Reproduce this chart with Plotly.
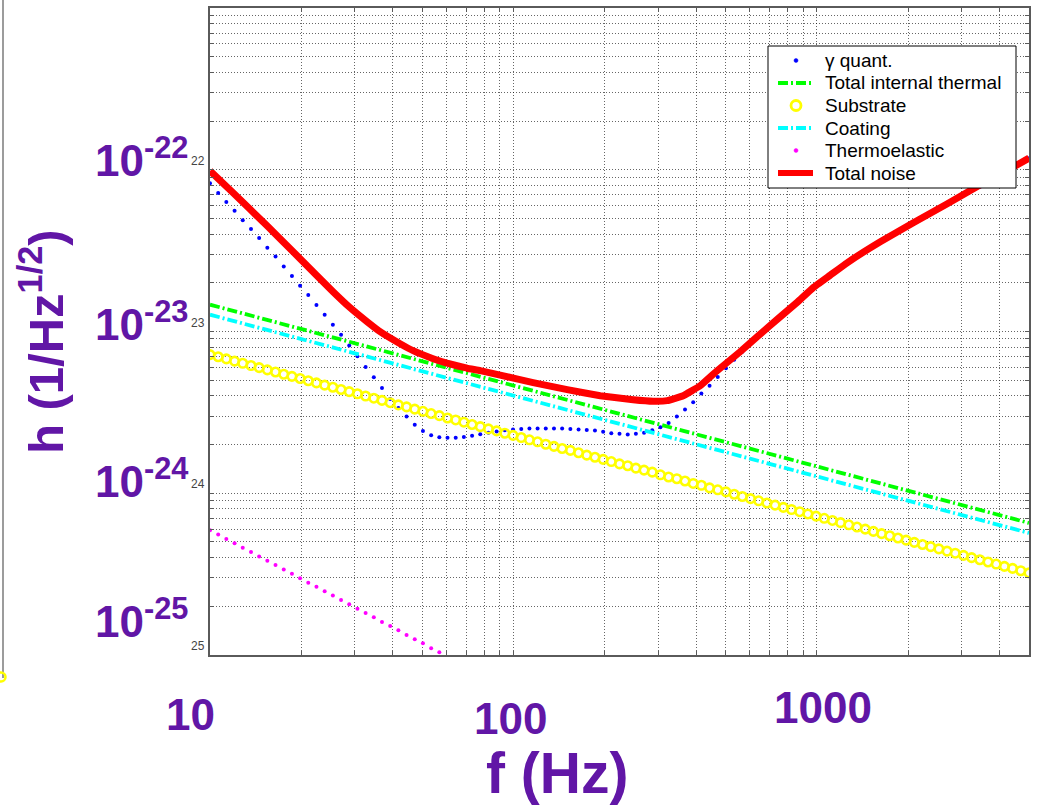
import plotly.graph_objects as go

# ---------------- data ----------------
freq = [10, 10.64, 11.32, 12.05, 12.82, 13.65, 14.52, 15.45, 16.44, 17.50,
        18.62, 19.81, 21.08, 22.43, 23.87, 25.40, 27.03, 28.76, 30.61, 32.57,
        34.66, 36.88, 39.24, 41.76, 44.44, 47.29, 50.32, 53.55, 56.98, 60.63,
        64.52, 68.65, 73.06, 77.74, 82.72, 88.03, 93.67, 99.68, 106.1, 112.9,
        120.1, 127.8, 136.0, 144.7, 154.0, 163.9, 174.4, 185.6, 197.5, 210.1,
        223.6, 238.0, 253.2, 269.4, 286.7, 305.1, 324.6, 345.5, 367.6, 391.2,
        416.2, 442.9, 471.3, 501.5, 533.7, 567.9, 604.3, 643.0, 684.3, 728.1,
        775.0, 824.7, 877.6, 933.8, 993.7, 1057, 1125, 1197, 1274, 1356,
        1443, 1535, 1634, 1738, 1850, 1968, 2094, 2229, 2371, 2524,
        2685, 2857, 3041, 3235, 3443, 3664, 3898, 4148, 4414, 4697, 5000]

quant = [8.26e-23, 7.17e-23, 6.31e-23, 5.57e-23, 4.88e-23, 4.30e-23, 3.78e-23, 3.29e-23, 2.91e-23, 2.52e-23,
         2.20e-23, 1.92e-23, 1.68e-23, 1.46e-23, 1.27e-23, 1.10e-23, 9.55e-24, 8.19e-24, 7.02e-24, 6.03e-24,
         5.22e-24, 4.48e-24, 3.83e-24, 3.36e-24, 2.98e-24, 2.65e-24, 2.43e-24, 2.28e-24, 2.22e-24, 2.20e-24,
         2.20e-24, 2.23e-24, 2.27e-24, 2.32e-24, 2.37e-24, 2.41e-24, 2.45e-24, 2.48e-24, 2.50e-24, 2.51e-24,
         2.51e-24, 2.51e-24, 2.51e-24, 2.51e-24, 2.50e-24, 2.48e-24, 2.46e-24, 2.44e-24, 2.40e-24, 2.35e-24,
         2.33e-24, 2.31e-24, 2.33e-24, 2.37e-24, 2.45e-24, 2.56e-24, 2.72e-24, 2.98e-24, 3.29e-24, 3.65e-24,
         4.13e-24, 4.62e-24, 5.24e-24, 5.92e-24, 6.69e-24, 7.50e-24, 8.40e-24, 9.42e-24, 1.050e-23, 1.161e-23,
         1.286e-23, 1.425e-23, 1.579e-23, 1.749e-23, 1.927e-23, 2.099e-23, 2.286e-23, 2.488e-23, 2.702e-23, 2.914e-23,
         3.138e-23, 3.379e-23, 3.633e-23, 3.884e-23, 4.158e-23, 4.445e-23, 4.753e-23, 5.088e-23, 5.447e-23, 5.833e-23,
         6.243e-23, 6.610e-23, 6.998e-23, 7.408e-23, 7.842e-23, 8.408e-23, 9.013e-23, 9.678e-23, 1.039e-22, 1.105e-22,
         1.176e-22]

substrate_e24 = [7.20, 6.98, 6.77, 6.56, 6.36, 6.16, 5.98, 5.79, 5.62, 5.44,
                 5.28, 5.12, 4.96, 4.81, 4.66, 4.52, 4.38, 4.25, 4.12, 3.99,
                 3.87, 3.75, 3.63, 3.52, 3.42, 3.31, 3.21, 3.11, 3.02, 2.92,
                 2.84, 2.75, 2.66, 2.58, 2.50, 2.43, 2.35, 2.28, 2.21, 2.14,
                 2.08, 2.01, 1.95, 1.89, 1.84, 1.78, 1.72, 1.67, 1.62, 1.57,
                 1.52, 1.48, 1.43, 1.39, 1.35, 1.30, 1.26, 1.23, 1.19, 1.15,
                 1.12, 1.08, 1.05, 1.02, 0.986, 0.955, 0.926, 0.898, 0.870, 0.844,
                 0.818, 0.793, 0.769, 0.745, 0.722, 0.700, 0.679, 0.658, 0.638, 0.618,
                 0.600, 0.581, 0.563, 0.546, 0.529, 0.513, 0.497, 0.482, 0.468, 0.453,
                 0.439, 0.426, 0.413, 0.400, 0.388, 0.376, 0.365, 0.353, 0.343, 0.332,
                 0.322]

thermo_e25 = [5.91, 5.55, 5.22, 4.91, 4.61, 4.33, 4.07, 3.83, 3.60, 3.38,
              3.18, 2.98, 2.80, 2.64, 2.48, 2.33, 2.19, 2.06, 1.93, 1.82,
              1.71, 1.60, 1.51, 1.42, 1.33, 1.25, 1.18, 1.10, 1.04]

line_freq = [10, 100, 1000, 5000]
thermal_total = [1.465e-23, 4.63e-24, 1.465e-24, 6.55e-25]
coating = [1.27e-23, 4.02e-24, 1.27e-24, 5.68e-25]

total_freq = [10, 11.91, 15.42, 19.81, 25.44, 28.94, 32.94, 36.35, 42.31, 46.70,
              54.35, 60.44, 70.37, 77.67, 90.41, 116.1, 150.4, 193.2, 248.1, 288.8,
              321.2, 362.6, 412.6, 469.6, 559.2, 636.2, 757.5, 861.7, 971.6, 1107,
              1258, 1618, 2079, 2691, 3457, 4442, 5000]
total_noise = [9.84e-23, 7.20e-23, 4.50e-23, 2.82e-23, 1.761e-23, 1.403e-23, 1.149e-23, 9.97e-24, 8.40e-24, 7.61e-24,
               6.79e-24, 6.37e-24, 5.93e-24, 5.73e-24, 5.37e-24, 4.83e-24, 4.37e-24, 4.01e-24, 3.79e-24, 3.71e-24,
               3.74e-24, 4.01e-24, 4.62e-24, 5.73e-24, 7.50e-24, 9.29e-24, 1.234e-23, 1.517e-23, 1.865e-23, 2.23e-23,
               2.66e-23, 3.59e-23, 4.70e-23, 6.16e-23, 8.07e-23, 1.042e-22, 1.18e-22]

substrate = [v * 1e-24 for v in substrate_e24]
thermo = [v * 1e-25 for v in thermo_e25]
thermo_freq = freq[:len(thermo)]

x_grid = [10, 20, 30, 40, 50, 60, 70, 80, 90, 100, 200, 300, 400, 500, 600, 700, 800, 900,
          1000, 2000, 3000, 4000, 5000]
y_grid = [m * 10.0 ** e for e in (-25, -24, -23, -22) for m in range(1, 10)] + [1e-21]

x_labels = ["10", "100", "1000"]
y_labels = ["10<sup>-22</sup>", "10<sup>-23</sup>", "10<sup>-24</sup>", "10<sup>-25</sup>"]
y_small = ["22", "23", "24", "25"]
legend_names = ["γ quant.", "Total internal thermal", "Substrate", "Coating", "Thermoelastic", "Total noise"]

# ---------------- styling / layout helpers ----------------
PURPLE = "#6116A6"
FONT = "Liberation Sans, Arial, sans-serif"
L, R, T, B = 210, 1029, 8, 655
DASHDOT = "10px,3px,2px,3px"


def pp(x, y):
    return (x - L) / (R - L), 1 - (y - T) / (B - T)


fig = go.Figure()
fig.add_trace(go.Scatter(x=freq, y=quant, mode="markers", name=legend_names[0],
                         marker=dict(color="#0000ff", size=4, symbol="circle")))
fig.add_trace(go.Scatter(x=line_freq, y=thermal_total, mode="lines", name=legend_names[1],
                         line=dict(color="#00ff00", width=3.8, dash=DASHDOT)))
fig.add_trace(go.Scatter(x=freq, y=substrate, mode="markers", name=legend_names[2],
                         marker=dict(color="#ffff00", size=8.5, symbol="circle-open",
                                     line=dict(color="#ffff00", width=2.6))))
fig.add_trace(go.Scatter(x=line_freq, y=coating, mode="lines", name=legend_names[3],
                         line=dict(color="#00ffff", width=3.8, dash=DASHDOT)))
fig.add_trace(go.Scatter(x=thermo_freq, y=thermo, mode="markers", name=legend_names[4],
                         marker=dict(color="#ff00ff", size=4, symbol="circle")))
fig.add_trace(go.Scatter(x=total_freq, y=total_noise, mode="lines", name=legend_names[5],
                         line=dict(color="#ff0000", width=7, shape="spline", smoothing=0.3)))

axis_common = dict(
    type="log", showgrid=True, gridcolor="rgba(0,0,0,0.6)", griddash="1px,2px", gridwidth=1,
    showline=True, linecolor="rgb(90,90,90)", linewidth=1.5, mirror="allticks",
    ticks="inside", ticklen=4, tickcolor="rgb(90,90,90)", showticklabels=False,
    zeroline=False, tickmode="array",
)
fig.update_xaxes(range=[1, 3.69897], tickvals=x_grid, **axis_common)
fig.update_yaxes(range=[-25, -21], tickvals=y_grid, **axis_common)

annotations = []
for txt, yc in zip(y_labels, [157, 322, 478, 618]):
    x0, y0 = pp(190, yc)
    annotations.append(dict(text=txt, x=x0, y=y0, xref="paper", yref="paper", xanchor="right",
                            yanchor="middle", showarrow=False,
                            font=dict(family=FONT, size=44, color=PURPLE, weight="bold")))
for txt, yc in zip(y_small, [161, 323, 484, 646]):
    x0, y0 = pp(197.5, yc)
    annotations.append(dict(text=txt, x=x0, y=y0, xref="paper", yref="paper", xanchor="center",
                            yanchor="middle", showarrow=False,
                            font=dict(family=FONT, size=12, color="#444444")))
for txt, (xc, yc) in zip(x_labels, [(190, 714), (510, 718), (823, 707)]):
    x0, y0 = pp(xc, yc)
    annotations.append(dict(text=txt, x=x0, y=y0, xref="paper", yref="paper", xanchor="center",
                            yanchor="middle", showarrow=False,
                            font=dict(family=FONT, size=44, color=PURPLE, weight="bold")))
x0, y0 = pp(557, 773)
annotations.append(dict(text="f (Hz)", x=x0, y=y0, xref="paper", yref="paper", xanchor="center",
                        yanchor="middle", showarrow=False,
                        font=dict(family=FONT, size=57, color=PURPLE, weight="bold")))
x0, y0 = pp(42, 342)
annotations.append(dict(text="h (1/Hz<sup>1/2</sup>)", x=x0, y=y0, xref="paper", yref="paper",
                        xanchor="center", yanchor="middle", textangle=-90, showarrow=False,
                        font=dict(family=FONT, size=49, color=PURPLE, weight="bold")))

# ---------------- hand-drawn legend (box, symbols, texts) ----------------
rows = [60.5, 83, 105.5, 128, 150.5, 173]
shapes = []
bx0, by0 = pp(768, 46)
bx1, by1 = pp(1016, 188)
shapes.append(dict(type="rect", xref="paper", yref="paper", x0=bx0, y0=by0, x1=bx1, y1=by1,
                   fillcolor="white", line=dict(color="black", width=1), layer="above"))


def seg(yc, color, width, dash):
    xa, ya = pp(778, yc)
    xb, _ = pp(813, yc)
    return dict(type="line", xref="paper", yref="paper", x0=xa, x1=xb, y0=ya, y1=ya,
                line=dict(color=color, width=width, dash=dash), layer="above")


def dot(xc, yc, d, fill, line_color, lw):
    xa, ya = pp(xc - d / 2, yc - d / 2)
    xb, yb = pp(xc + d / 2, yc + d / 2)
    return dict(type="circle", xref="paper", yref="paper", x0=xa, x1=xb, y0=yb, y1=ya,
                fillcolor=fill, line=dict(color=line_color, width=lw), layer="above")


shapes.append(dot(796, rows[0], 4, "#0000ff", "#0000ff", 0.5))
shapes.append(seg(rows[1], "#00ff00", 3.8, DASHDOT))
shapes.append(dot(796, rows[2], 10, "rgba(0,0,0,0)", "#ffff00", 2.8))
shapes.append(seg(rows[3], "#00ffff", 3.8, DASHDOT))
shapes.append(dot(796, rows[4], 4, "#ff00ff", "#ff00ff", 0.5))
shapes.append(seg(rows[5], "#ff0000", 6, "solid"))

for name, yc in zip(legend_names, rows):
    x0, y0 = pp(823, yc)
    annotations.append(dict(text=name, x=x0, y=y0, xref="paper", yref="paper", xanchor="left",
                            yanchor="middle", showarrow=False,
                            font=dict(family=FONT, size=19, color="black")))

# thin edge of the neighbouring panel at the far left
sx, _ = pp(3, 0)
shapes.append(dict(type="line", xref="paper", yref="paper", x0=sx, x1=sx,
                   y0=pp(0, 0)[1], y1=pp(0, 678)[1], line=dict(color="rgb(90,90,90)", width=1.2)))
shapes.append(dot(1, 677, 9, "rgba(0,0,0,0)", "#ffff00", 2.5))

fig.update_layout(
    width=1039, height=805,
    margin=dict(l=L, r=1039 - R, t=T, b=805 - B, autoexpand=False),
    plot_bgcolor="white", paper_bgcolor="white",
    showlegend=False,
    annotations=annotations,
    shapes=shapes,
)

fig.write_html("out.html")
